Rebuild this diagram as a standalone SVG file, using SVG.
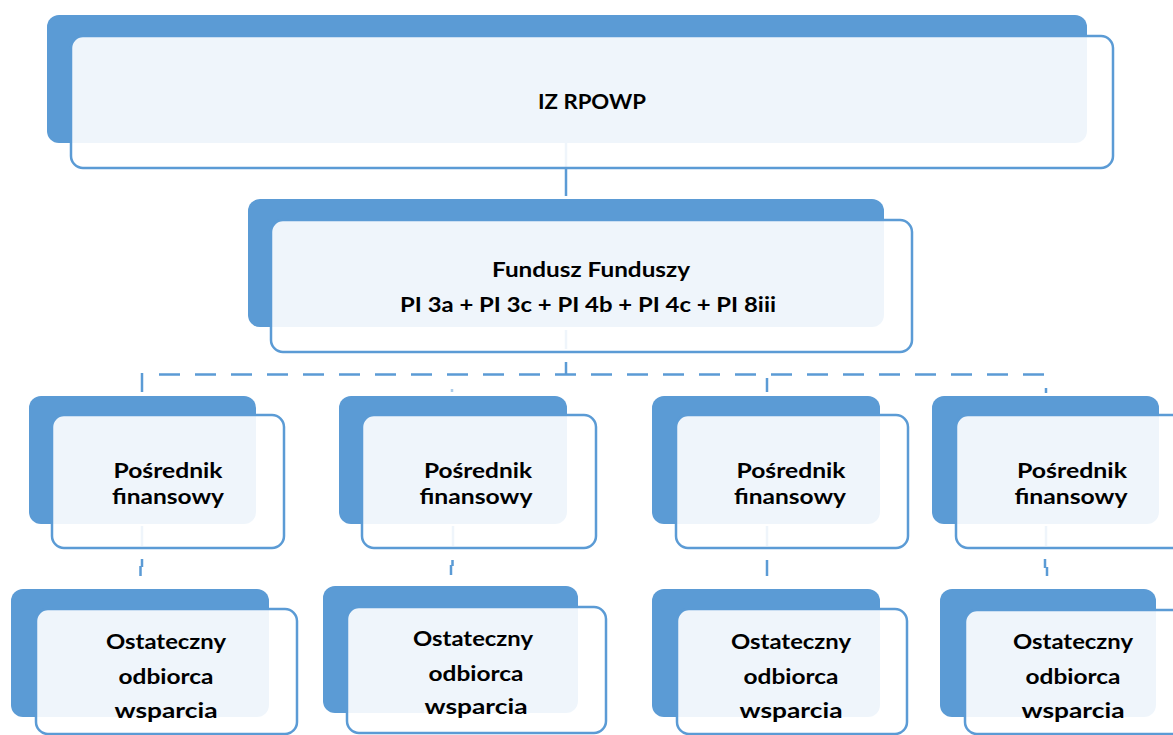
<svg xmlns="http://www.w3.org/2000/svg" width="1173" height="735" viewBox="0 0 1173 735">
  <style>
    .back { fill: #5B9BD5; }
    .front { fill: #FFFFFF; fill-opacity: 0.9; stroke: #5B9BD5; stroke-width: 2.5; }
    .lbl { font-family: Lato, "Liberation Sans", sans-serif; font-weight: bold; font-size: 21px; fill: #000000; text-anchor: middle; }
    .conn { stroke: #5B9BD5; stroke-width: 2.5; fill: none; }
    .dash { stroke: #5B9BD5; stroke-width: 2.5; fill: none; stroke-dasharray: 21 15; }
  </style>
  <rect width="1173" height="735" fill="#FFFFFF"/>
  <g id="connectors">
    <line class="conn" x1="566" y1="143" x2="566" y2="196"/>
    <line class="conn" x1="566" y1="330" x2="566" y2="349"/>
    <line class="conn" x1="566" y1="362" x2="566" y2="374"/>
    <line class="dash" x1="159" y1="374.5" x2="1046" y2="374.5"/>
    <line class="conn" x1="142" y1="373" x2="142" y2="392"/>
    <line class="conn" x1="452" y1="389" x2="452" y2="392" stroke-opacity="0.5"/>
    <line class="conn" x1="767" y1="378" x2="767" y2="392"/>
    <line class="conn" x1="1046" y1="388" x2="1046" y2="393"/>
    <line class="conn" x1="142" y1="526" x2="142" y2="546"/>
    <path class="conn" d="M142 559 V567 M140.5 566 V576"/>
    <line class="conn" x1="453" y1="526" x2="453" y2="546"/>
    <path class="conn" d="M452.5 560 V566 M451 565 V575"/>
    <line class="conn" x1="767" y1="526" x2="767" y2="546"/>
    <line class="conn" x1="767" y1="560" x2="767" y2="576"/>
    <line class="conn" x1="1046" y1="526" x2="1046" y2="546"/>
    <path class="conn" d="M1045 559 V568 M1047 567 V576"/>
  </g>
  <g id="node-iz">
    <rect class="back" x="47" y="15" width="1040" height="128" rx="12"/>
    <rect class="front" x="71" y="36" width="1042" height="132" rx="12"/>
    <text class="lbl" x="592" y="109" textLength="108" lengthAdjust="spacingAndGlyphs">IZ RPOWP</text>
  </g>
  <g id="node-fundusz">
    <rect class="back" x="248" y="199" width="636" height="128" rx="12"/>
    <rect class="front" x="271" y="220" width="641" height="132" rx="12"/>
    <text class="lbl" x="591" y="277" textLength="198" lengthAdjust="spacingAndGlyphs">Fundusz Funduszy</text>
    <text class="lbl" x="588" y="312" textLength="376" lengthAdjust="spacingAndGlyphs">PI 3a + PI 3c + PI 4b + PI 4c + PI 8iii</text>
  </g>
  <g id="node-posrednik-1">
    <rect class="back" x="29" y="396" width="227" height="128" rx="12"/>
    <rect class="front" x="52" y="415" width="232" height="133" rx="12"/>
    <text class="lbl" x="168" y="478" textLength="109" lengthAdjust="spacingAndGlyphs">Pośrednik</text>
    <text class="lbl" x="168" y="504" textLength="112" lengthAdjust="spacingAndGlyphs">finansowy</text>
  </g>
  <g id="node-posrednik-2">
    <rect class="back" x="339" y="396" width="228" height="128" rx="12"/>
    <rect class="front" x="362" y="415" width="234" height="133" rx="12"/>
    <text class="lbl" x="478" y="478" textLength="108" lengthAdjust="spacingAndGlyphs">Pośrednik</text>
    <text class="lbl" x="476" y="504" textLength="113" lengthAdjust="spacingAndGlyphs">finansowy</text>
  </g>
  <g id="node-posrednik-3">
    <rect class="back" x="652" y="396" width="228" height="128" rx="12"/>
    <rect class="front" x="676" y="415" width="232" height="133" rx="12"/>
    <text class="lbl" x="791" y="478" textLength="109" lengthAdjust="spacingAndGlyphs">Pośrednik</text>
    <text class="lbl" x="790" y="504" textLength="112" lengthAdjust="spacingAndGlyphs">finansowy</text>
  </g>
  <g id="node-posrednik-4">
    <rect class="back" x="932" y="396" width="227" height="128" rx="12"/>
    <rect class="front" x="956" y="415" width="232" height="133" rx="12"/>
    <text class="lbl" x="1072" y="478" textLength="110" lengthAdjust="spacingAndGlyphs">Pośrednik</text>
    <text class="lbl" x="1071" y="504" textLength="113" lengthAdjust="spacingAndGlyphs">finansowy</text>
  </g>
  <g id="node-odbiorca-1">
    <rect class="back" x="11" y="589" width="258" height="128" rx="12"/>
    <rect class="front" x="36" y="609" width="261" height="125" rx="12"/>
    <text class="lbl" x="166" y="649" textLength="120" lengthAdjust="spacingAndGlyphs">Ostateczny</text>
    <text class="lbl" x="166" y="684" textLength="95" lengthAdjust="spacingAndGlyphs">odbiorca</text>
    <text class="lbl" x="166" y="718" textLength="103" lengthAdjust="spacingAndGlyphs">wsparcia</text>
  </g>
  <g id="node-odbiorca-2">
    <rect class="back" x="323" y="586" width="255" height="127" rx="12"/>
    <rect class="front" x="347" y="607" width="259" height="126" rx="12"/>
    <text class="lbl" x="473" y="646" textLength="120" lengthAdjust="spacingAndGlyphs">Ostateczny</text>
    <text class="lbl" x="476" y="681" textLength="95" lengthAdjust="spacingAndGlyphs">odbiorca</text>
    <text class="lbl" x="476" y="714" textLength="103" lengthAdjust="spacingAndGlyphs">wsparcia</text>
  </g>
  <g id="node-odbiorca-3">
    <rect class="back" x="652" y="589" width="228" height="128" rx="12"/>
    <rect class="front" x="677" y="609" width="230" height="125" rx="12"/>
    <text class="lbl" x="791" y="649" textLength="120" lengthAdjust="spacingAndGlyphs">Ostateczny</text>
    <text class="lbl" x="791" y="684" textLength="95" lengthAdjust="spacingAndGlyphs">odbiorca</text>
    <text class="lbl" x="791" y="718" textLength="103" lengthAdjust="spacingAndGlyphs">wsparcia</text>
  </g>
  <g id="node-odbiorca-4">
    <rect class="back" x="940" y="589" width="216" height="128" rx="12"/>
    <rect class="front" x="965" y="610" width="219" height="124" rx="12"/>
    <text class="lbl" x="1073" y="649" textLength="120" lengthAdjust="spacingAndGlyphs">Ostateczny</text>
    <text class="lbl" x="1073" y="684" textLength="95" lengthAdjust="spacingAndGlyphs">odbiorca</text>
    <text class="lbl" x="1073" y="718" textLength="103" lengthAdjust="spacingAndGlyphs">wsparcia</text>
  </g>
</svg>
